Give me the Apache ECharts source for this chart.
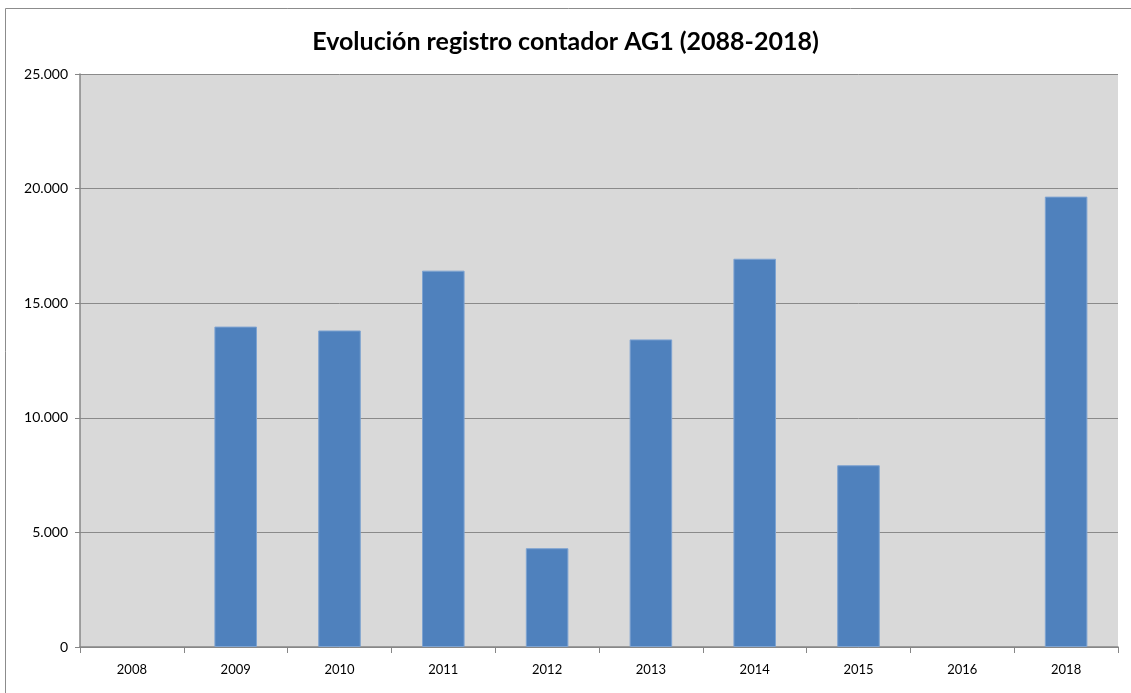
<!DOCTYPE html>
<html><head><meta charset="utf-8">
<script src="https://cdn.jsdelivr.net/npm/echarts@6/dist/echarts.min.js"></script>
<style>html,body{margin:0;padding:0;background:#fff}#c{width:1131px;height:693px}</style>
</head><body><div id="c"></div>
<script>
const categories = ['2008','2009','2010','2011','2012','2013','2014','2015','2016','2018'];
const values = [null, 13980, 13810, 16420, 4310, 13420, 16940, 7930, null, 19650];
const yTicks = [0, 5000, 10000, 15000, 20000, 25000];

const chart = echarts.init(document.getElementById('c'));
const font = 'Lato, "Open Sans", sans-serif';
chart.setOption({
  animation: false,
  backgroundColor: '#fff',
  title: {
    text: 'Evolución registro contador AG1 (2088-2018)',
    left: 'center', top: 24,
    textStyle: {fontFamily: font, fontSize: 25, fontWeight: 'bold', color: '#000'}
  },
  graphic: [{
    type: 'polyline', silent: true,
    shape: {points: [[5.5, 700], [5.5, 8.5], [1140, 8.5]]},
    style: {stroke: '#8c8c8c', lineWidth: 1, fill: null}
  }],
  grid: {left: 80, right: 13, top: 74, bottom: 46, backgroundColor: '#d9d9d9', show: true, borderWidth: 0},
  xAxis: {
    type: 'category', data: categories,
    axisLine: {lineStyle: {color: '#868686', width: 1.5}},
    axisTick: {show: true, length: 6, lineStyle: {color: '#868686'}},
    axisLabel: {fontFamily: font, fontSize: 13, color: '#000', margin: 16}
  },
  yAxis: {
    type: 'value', min: 0, max: 25000, interval: 5000,
    axisLine: {show: true, lineStyle: {color: '#868686', width: 1.5}},
    axisTick: {show: true, length: 5, lineStyle: {color: '#868686'}},
    splitLine: {lineStyle: {color: '#8a8a8a', width: 1}},
    axisLabel: {fontFamily: font, fontSize: 14, color: '#000', margin: 12,
      formatter: v => yTicks.includes(v) ? (v === 0 ? '0' : v.toLocaleString('de-DE')) : ''}
  },
  series: [{
    type: 'bar', data: values, barWidth: '41%',
    itemStyle: {color: '#4f81bd', borderColor: '#7ea3d1', borderWidth: 1}
  }]
});
</script></body></html>
